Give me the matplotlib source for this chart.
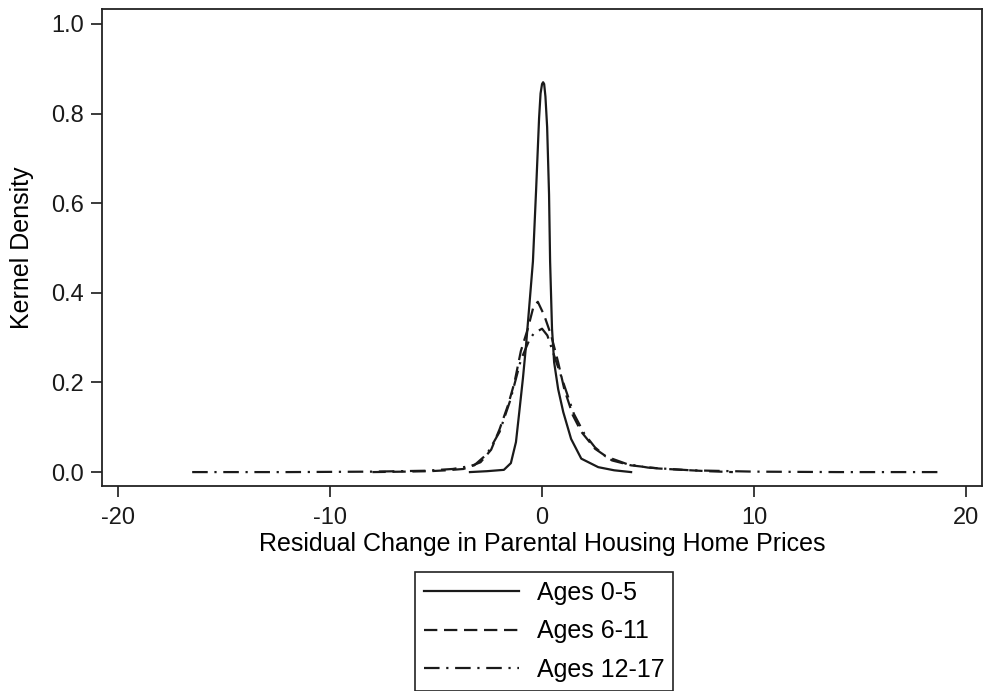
import matplotlib.pyplot as plt

plt.rcParams['font.family'] = ['Liberation Sans', 'DejaVu Sans']
plt.rcParams['axes.unicode_minus'] = False

# Ages 0-5 (solid)
x_0_5 = [-3.4, -2.6, -1.8, -1.47, -1.23, -1.09, -0.9, -0.76, -0.62, -0.43, -0.28,
         -0.14, -0.07, 0.0, 0.05, 0.1, 0.16, 0.24, 0.33, 0.38, 0.47, 0.57, 0.76, 1.0,
         1.37, 1.85, 2.65, 3.4, 4.2]
y_0_5 = [0.0, 0.002, 0.005, 0.02, 0.067, 0.127, 0.21, 0.28, 0.36, 0.47, 0.63,
         0.79, 0.845, 0.866, 0.87, 0.866, 0.838, 0.77, 0.62, 0.47, 0.32, 0.245, 0.185,
         0.134, 0.074, 0.03, 0.011, 0.004, 0.0]

# Ages 6-11 (dashed)
x_6_11 = [-8.0, -6.5, -5.3, -4.5, -3.7, -2.9, -2.4, -2.0, -1.6, -1.3, -1.0, -0.67,
          -0.4, -0.2, 0.1, 0.43, 0.76, 1.05, 1.45, 1.85, 2.5, 3.3, 4.2, 5.5, 6.6, 7.8, 9.0]
y_6_11 = [0.0, 0.001, 0.002, 0.004, 0.007, 0.022, 0.05, 0.096, 0.15, 0.20, 0.27, 0.32,
          0.37, 0.38, 0.35, 0.305, 0.245, 0.185, 0.127, 0.09, 0.052, 0.026, 0.015,
          0.008, 0.005, 0.002, 0.0]

# Ages 12-17 (dash-dot)
x_12_17 = [-16.5, -12.0, -8.0, -5.5, -4.2, -3.2, -2.6, -2.0, -1.5, -1.0, -0.6, -0.38,
           0.0, 0.25, 0.5, 1.0, 1.5, 2.0, 2.5, 3.0, 4.0, 5.0, 7.0, 10.0, 14.0, 18.8]
y_12_17 = [0.0, 0.0, 0.001, 0.003, 0.007, 0.015, 0.04, 0.09, 0.16, 0.25, 0.295, 0.31,
           0.32, 0.305, 0.27, 0.20, 0.13, 0.085, 0.055, 0.035, 0.018, 0.01, 0.004,
           0.001, 0.0, 0.0]

labels = ['Ages 0-5', 'Ages 6-11', 'Ages 12-17']
x_ticks = [-20, -10, 0, 10, 20]
y_ticks = [0.0, 0.2, 0.4, 0.6, 0.8, 1.0]

fig = plt.figure(figsize=(9.85, 6.91), dpi=100)
ax = fig.add_axes([0.1036, 0.2967, 0.8934, 0.6903])

kol = '#1a1a1a'
ax.plot(x_0_5, y_0_5, color=kol, lw=1.6, ls='-', label=labels[0])
ax.plot(x_6_11, y_6_11, color=kol, lw=1.6, ls=(0, (6, 3)), label=labels[1])
ax.plot(x_12_17, y_12_17, color=kol, lw=1.6, ls=(0, (7, 3, 1, 3)), label=labels[2])

ax.set_xlim(-20.75, 20.75)
ax.set_ylim(-0.031, 1.0335)
ax.set_xticks(x_ticks)
ax.set_yticks(y_ticks)
ax.set_yticklabels([f'{v:.1f}' for v in y_ticks])
ax.tick_params(direction='out', length=8, width=1.2, labelsize=17, colors=kol)
ax.tick_params(axis='x', pad=7)
ax.tick_params(axis='y', pad=5)
for s in ax.spines.values():
    s.set_linewidth(1.3)
    s.set_color('#222222')

ax.set_xlabel('Residual Change in Parental Housing Home Prices', fontsize=18, labelpad=2)
ax.set_ylabel('Kernel Density', fontsize=18, labelpad=12)

leg = fig.legend(loc='upper center', bbox_to_anchor=(0.5523, 0.1722), borderaxespad=0,
                 fontsize=18, handlelength=3.8, handletextpad=0.72, labelspacing=0.57,
                 borderpad=0.36, fancybox=False, framealpha=1, edgecolor='#222222')
leg.get_frame().set_linewidth(1.2)

fig.savefig('out.png', dpi=100)
